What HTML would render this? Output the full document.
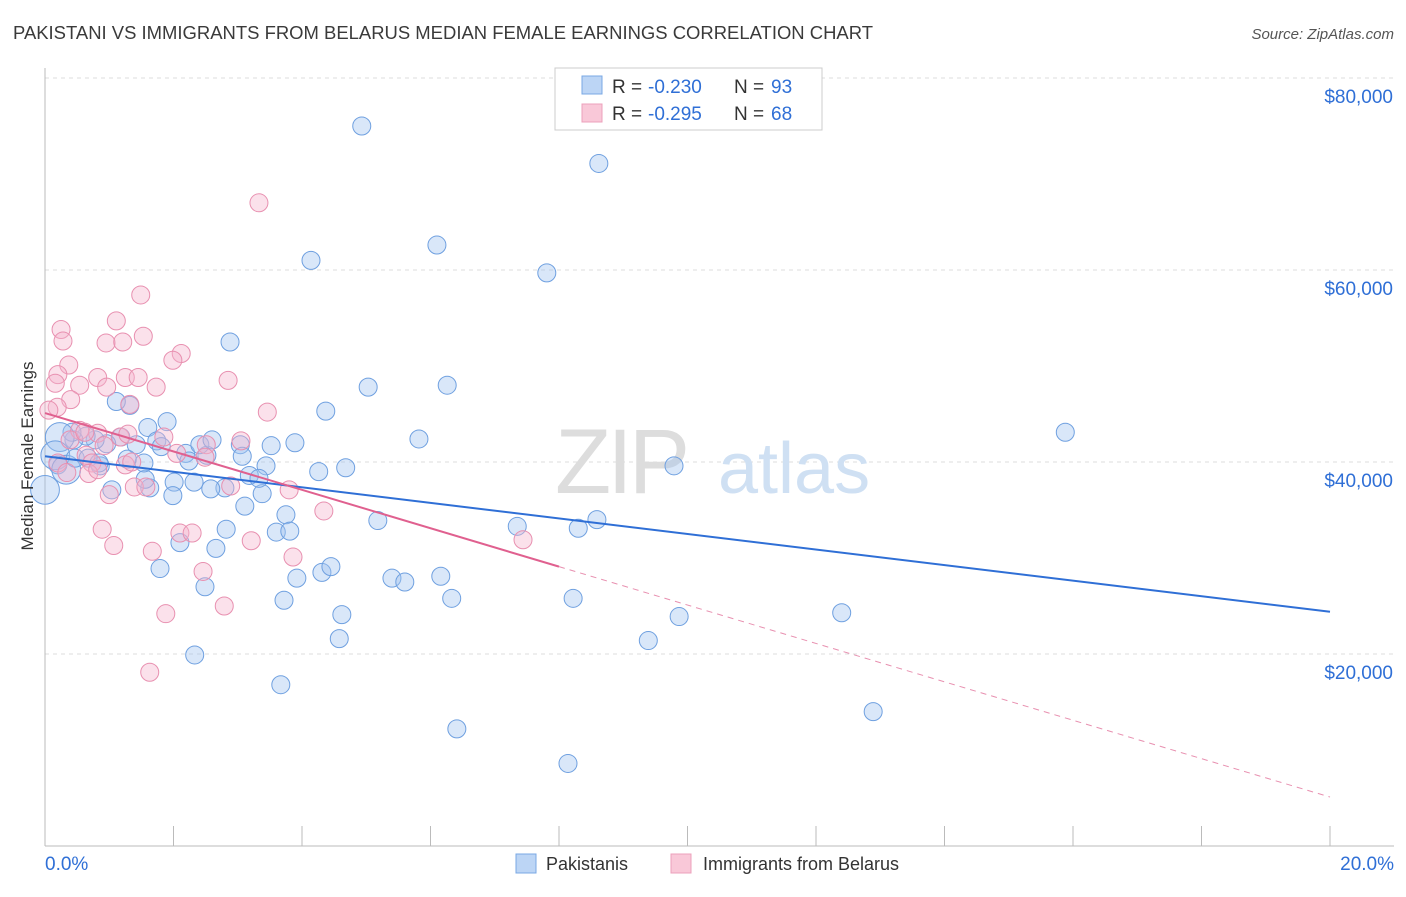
<!DOCTYPE html>
<html><head><meta charset="utf-8"><style>
body{margin:0;background:#fff;font-family:"Liberation Sans",sans-serif;}
svg text{font-family:"Liberation Sans",sans-serif;}
</style></head><body>
<svg id="chart" width="1406" height="892" xmlns="http://www.w3.org/2000/svg">
<text x="13" y="39" font-size="18" fill="#3a3a3a" textLength="860" lengthAdjust="spacingAndGlyphs">PAKISTANI VS IMMIGRANTS FROM BELARUS MEDIAN FEMALE EARNINGS CORRELATION CHART</text>
<text x="1394" y="39" font-size="15" fill="#555" text-anchor="end" font-style="italic">Source: ZipAtlas.com</text>
<g id="grid"></g>
<g id="axes"></g>
<text x="555" y="493" font-size="92" fill="#ddd" font-family="Liberation Serif" letter-spacing="-4">ZIP</text>
<text x="718" y="493" font-size="72" fill="#cfe0f3">atlas</text>
<g id="pts"></g>
<g id="lines"></g>
<text transform="translate(33,456) rotate(-90)" font-size="17" fill="#333" text-anchor="middle">Median Female Earnings</text>
<g>
<rect x="555" y="68" width="267" height="62" fill="#fff" stroke="#ccc"/>
<rect x="582" y="76" width="20" height="18" fill="#bcd5f5" stroke="#7aa8e4"/>
<rect x="582" y="104" width="20" height="18" fill="#f9c8d8" stroke="#eca0bb"/>
<text x="612" y="93" font-size="19" fill="#333">R =</text>
<text x="648" y="93" font-size="19" fill="#2f6fd6">-0.230</text>
<text x="734" y="93" font-size="19" fill="#333">N =</text>
<text x="771" y="93" font-size="19" fill="#2f6fd6">93</text>
<text x="612" y="120" font-size="19" fill="#333">R =</text>
<text x="648" y="120" font-size="19" fill="#2f6fd6">-0.295</text>
<text x="734" y="120" font-size="19" fill="#333">N =</text>
<text x="771" y="120" font-size="19" fill="#2f6fd6">68</text>
</g>
<g>
<rect x="516" y="854" width="20" height="19" fill="#bcd5f5" stroke="#7aa8e4"/>
<text x="546" y="870" font-size="18" fill="#333">Pakistanis</text>
<rect x="671" y="854" width="20" height="19" fill="#f9c8d8" stroke="#eca0bb"/>
<text x="703" y="870" font-size="18" fill="#333">Immigrants from Belarus</text>
</g>
</svg>
<script>
const xTicks=[0,2,4,6,8,10,12,14,16,18,20];
const yTicks=[20000,40000,60000,80000];
const yTickLabels=["$20,000","$40,000","$60,000","$80,000"];
const blueX=[4.93,8.62,4.14,6.10,7.81,2.88,5.03,6.26,4.37,5.82,15.88,9.79,3.52,3.89,4.26,4.68,3.44,3.18,5.18,7.35,8.30,8.59,3.75,3.60,3.81,3.11,2.82,2.66,1.79,2.49,3.92,4.31,4.45,5.40,5.60,6.16,6.33,8.22,9.87,12.40,9.39,3.72,4.62,4.58,2.33,3.67,6.41,8.14,12.89,1.90,1.60,1.32,1.11,1.18,1.42,1.74,1.81,2.19,2.24,2.52,2.41,2.60,3.04,3.07,3.38,3.33,2.80,2.58,2.32,2.01,1.99,2.10,1.63,1.56,1.54,1.28,1.04,0.86,0.96,0.78,0.64,0.45,0.42,0.23,0.20,0.16,0.0,0.33,0.47,0.67,0.84];
const blueY=[75.0,71.1,61.0,62.6,59.7,52.5,47.8,48.0,45.3,42.4,43.1,39.6,41.7,42.0,39.0,39.4,39.6,38.6,33.9,33.3,33.1,34.0,34.5,32.7,32.8,35.4,33.0,31.0,28.9,27.0,27.9,28.5,29.1,27.9,27.5,28.1,25.8,25.8,23.9,24.3,21.4,25.6,24.1,21.6,19.9,16.8,12.2,8.6,14.0,44.2,43.6,45.9,46.3,42.6,41.8,42.2,41.6,40.9,40.1,40.7,41.8,42.3,41.8,40.6,36.7,38.3,37.3,37.2,37.9,37.9,36.5,31.6,37.3,38.2,39.9,40.3,37.1,39.6,41.9,42.3,42.7,42.3,43.1,42.6,39.7,40.7,37.1,39.2,40.4,40.4,39.9];
const blueSize=blueX.map((v,i)=>[83,85,86,87].includes(i)?1.6:1);
const pinkX=[3.33,1.49,1.11,0.25,1.53,0.95,1.21,0.28,0.37,2.12,1.99,0.20,0.16,0.54,0.82,1.25,1.45,1.73,2.85,0.96,0.40,0.19,0.06,1.32,3.46,1.85,2.51,3.05,2.05,2.49,1.17,1.29,0.54,0.82,0.92,0.64,0.73,0.20,0.34,0.68,0.82,1.25,1.35,1.39,1.00,1.57,2.89,3.80,4.34,0.89,2.10,2.29,1.07,1.67,3.21,3.86,7.44,2.46,2.79,1.88,1.63,0.39,0.62];
const pinkY=[67.0,57.4,54.7,53.8,53.1,52.4,52.5,52.6,50.1,51.3,50.6,49.1,48.2,48.0,48.8,48.8,48.8,47.8,48.5,47.8,46.5,45.7,45.4,46.0,45.2,42.6,41.8,42.2,40.9,40.5,42.6,42.9,43.3,43.0,41.7,40.7,39.9,39.9,38.9,38.8,39.2,39.7,40.0,37.4,36.6,37.4,37.5,37.1,34.9,33.0,32.6,32.6,31.3,30.7,31.8,30.1,31.9,28.6,25.0,24.2,18.1,42.3,43.1];
const blueTrend=[[0,40.6],[20,24.4]];
const pinkTrend=[[0,45.1],[8,29.1],[20,5.1]];
const NS="http://www.w3.org/2000/svg";
const X=p=>45+p*64.25, Y=k=>846-k*9.6;
function mk(tag,attrs,parent){const e=document.createElementNS(NS,tag);for(const k in attrs)e.setAttribute(k,attrs[k]);parent.appendChild(e);return e;}
const grid=document.getElementById('grid'),axes=document.getElementById('axes'),pts=document.getElementById('pts'),lines=document.getElementById('lines');
yTicks.forEach((t,i)=>{
 const l=mk('line',{x1:45,x2:1394,y1:Y(t/1000),y2:Y(t/1000),stroke:'#ddd','stroke-dasharray':'4,4'},grid);
 
 
 const tx=mk('text',{x:1393,y:Y(t/1000)+25,'font-size':19,fill:'#2f6fd6','text-anchor':'end'},axes);
 tx.textContent=yTickLabels[i];
 
 
});
mk('line',{x1:45,x2:45,y1:68,y2:846,stroke:'#bbb'},axes);
mk('line',{x1:45,x2:1394,y1:846,y2:846,stroke:'#bbb'},axes);
xTicks.forEach(t=>{
 const l=mk('line',{x1:X(t),x2:X(t),y1:826,y2:846,stroke:'#bbb'},axes);
 
 
});
const xl0=mk('text',{x:45,y:870,'font-size':19,fill:'#2f6fd6'},axes);xl0.textContent='0.0%';


const xl1=mk('text',{x:1394,y:870,'font-size':19,fill:'#2f6fd6','text-anchor':'end'},axes);xl1.textContent='20.0%';


blueX.forEach((v,i)=>{
 const c=mk('circle',{cx:X(v),cy:Y(blueY[i]),r:9*blueSize[i],fill:'rgba(160,195,240,0.4)',stroke:'#6fa0e0','stroke-width':1},pts);
 
 
});
pinkX.forEach((v,i)=>{
 const c=mk('circle',{cx:X(v),cy:Y(pinkY[i]),r:9,fill:'rgba(245,180,204,0.4)',stroke:'#e890b0','stroke-width':1},pts);
 
 
});
const bl=mk('line',{x1:X(blueTrend[0][0]),y1:Y(blueTrend[0][1]),x2:X(blueTrend[1][0]),y2:Y(blueTrend[1][1]),stroke:'#2f6fd6','stroke-width':2},lines);


const pl=mk('line',{x1:X(pinkTrend[0][0]),y1:Y(pinkTrend[0][1]),x2:X(pinkTrend[1][0]),y2:Y(pinkTrend[1][1]),stroke:'#e0608f','stroke-width':2},lines);


const pd=mk('line',{x1:X(pinkTrend[1][0]),y1:Y(pinkTrend[1][1]),x2:X(pinkTrend[2][0]),y2:Y(pinkTrend[2][1]),stroke:'#e890b0','stroke-width':1,'stroke-dasharray':'6,5'},lines);


</script>
</body></html>
